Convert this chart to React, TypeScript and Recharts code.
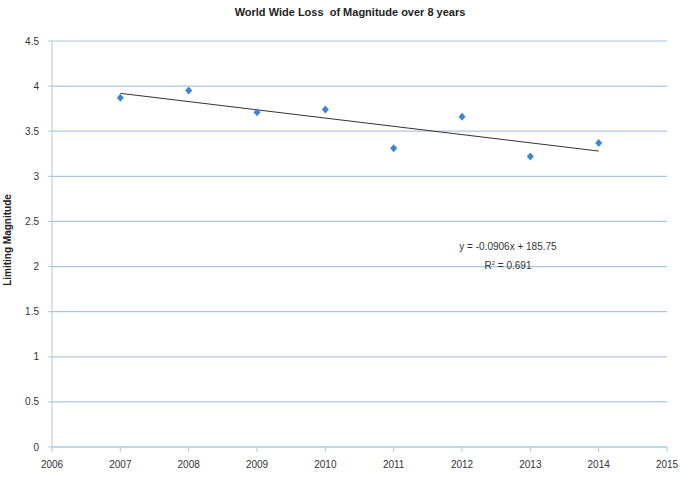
import { ComposedChart, Scatter, Line, XAxis, YAxis, CartesianGrid } from 'recharts';

// readings
const YEARS = [2007, 2008, 2009, 2010, 2011, 2012, 2013, 2014];
const MAGNITUDES = [3.87, 3.95, 3.71, 3.74, 3.31, 3.66, 3.22, 3.37];

// linear trend line ends (y = -0.0906x + 185.75)
const TREND_YEARS = [2007, 2014];
const TREND_VALUES = [3.92, 3.28];

const X_TICKS = [2006, 2007, 2008, 2009, 2010, 2011, 2012, 2013, 2014, 2015];
const Y_TICKS = [0, 0.5, 1, 1.5, 2, 2.5, 3, 3.5, 4, 4.5];

const TITLE = 'World Wide Loss  of Magnitude over 8 years';
const Y_LABEL = 'Limiting Magnitude';
const EQUATION = 'y = -0.0906x + 185.75';
const R_SQUARED = '0.691';

const points = YEARS.map((year, i) => ({ year, value: MAGNITUDES[i] }));
const trend = TREND_YEARS.map((year, i) => ({ year, value: TREND_VALUES[i] }));

const FONT = '"Liberation Sans Narrow", "Liberation Sans", Arial, sans-serif';
const GRID = '#a9c8e0';

// Excel-style small diamond marker
function Diamond(props: any) {
    const { cx, cy } = props;
    if (cx == null || cy == null) return null;
    return (
        <path
            d={`M${cx},${cy - 4}L${cx + 3.5},${cy}L${cx},${cy + 4}L${cx - 3.5},${cy}Z`}
            fill="#3b86cf"
        />
    );
}

export default function App() {
    return (
        <div style={{ position: 'absolute', left: 0, top: 0, width: 681, height: 478, background: '#fff', fontFamily: FONT }}>
            <div
                style={{
                    position: 'absolute',
                    top: 6,
                    left: 0,
                    width: 700,
                    textAlign: 'center',
                    fontSize: 11,
                    fontWeight: 'bold',
                    color: '#222',
                    whiteSpace: 'pre',
                }}
            >
                {TITLE}
            </div>
            <ComposedChart width={681} height={478} margin={{ top: 41, right: 14, bottom: 0, left: 0 }}>
                <CartesianGrid vertical={false} stroke={GRID} strokeWidth={1.2} />
                <XAxis
                    type="number"
                    dataKey="year"
                    domain={[2006, 2015]}
                    ticks={X_TICKS}
                    allowDataOverflow
                    height={31}
                    stroke={GRID}
                    tickSize={5}
                    tickMargin={9}
                    tick={{ fill: '#333', fontSize: 10, fontFamily: FONT }}
                />
                <YAxis
                    type="number"
                    dataKey="value"
                    domain={[0, 4.5]}
                    ticks={Y_TICKS}
                    width={52}
                    stroke={GRID}
                    tickSize={4}
                    tickMargin={9}
                    tick={{ fill: '#333', fontSize: 10, fontFamily: FONT }}
                    label={{
                        value: Y_LABEL,
                        angle: -90,
                        position: 'insideLeft',
                        offset: 7,
                        dy: -4,
                        style: { textAnchor: 'middle', fill: '#222', fontSize: 10, fontWeight: 'bold', fontFamily: FONT },
                    }}
                />
                <Line
                    data={trend}
                    dataKey="value"
                    type="linear"
                    stroke="#333"
                    strokeWidth={1}
                    dot={false}
                    activeDot={false}
                    isAnimationActive={false}
                />
                <Scatter data={points} dataKey="value" shape={Diamond} isAnimationActive={false} />
            </ComposedChart>
            <div
                style={{
                    position: 'absolute',
                    left: 448,
                    top: 238,
                    width: 120,
                    textAlign: 'center',
                    fontSize: 10,
                    lineHeight: '17px',
                    color: '#333',
                }}
            >
                <div>{EQUATION}</div>
                <div>
                    R<sup style={{ fontSize: 6 }}>2</sup> = {R_SQUARED}
                </div>
            </div>
        </div>
    );
}
